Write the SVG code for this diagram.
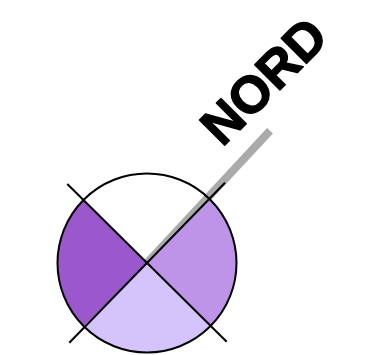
<svg xmlns="http://www.w3.org/2000/svg" width="370" height="355" viewBox="0 0 370 355">
<style>
.edge{stroke:#000;stroke-width:2;fill:none}
.label{font-family:"Liberation Sans",Arial,sans-serif;font-weight:bold;font-size:52px;fill:#000;stroke:#000;stroke-width:1.4;stroke-linejoin:round}
</style>
<rect width="370" height="355" fill="#fff"/>
<g id="needle"><line x1="147" y1="263" x2="270" y2="130.8" stroke="#aaaaaa" stroke-width="8"/></g>
<g id="quadrants">
<path id="q-left" d="M147 263 L83.7 199.7 A89.5 89.5 0 0 0 83.7 326.3 Z" fill="#9b57cc"/>
<path id="q-right" d="M147 263 L210.3 199.7 A89.5 89.5 0 0 1 210.3 326.3 Z" fill="#be94e8"/>
<path id="q-bottom" d="M147 263 L210.3 326.3 A89.5 89.5 0 0 1 83.7 326.3 Z" fill="#d4c4fb"/>
</g>
<g id="connectors">
<circle class="edge" cx="147" cy="263" r="89.5"/>
<line class="edge" x1="67.3" y1="184" x2="226.7" y2="341.7"/>
<line class="edge" x1="69.3" y1="342.7" x2="225" y2="182.7"/>
</g>
<g id="north-label"><text class="label" transform="translate(222.3 147.7) rotate(-45)">NORD</text></g>
</svg>
